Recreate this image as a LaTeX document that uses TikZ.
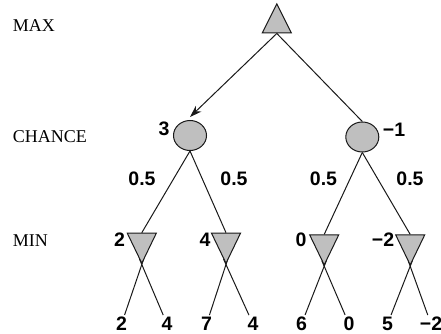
\documentclass[tikz,border=0pt]{standalone}
\usepackage{fontspec}
\setmainfont{Liberation Serif}
\newfontfamily\valfont{Liberation Sans}
\usetikzlibrary{shapes.geometric, arrows.meta, backgrounds}

\begin{document}
\begin{tikzpicture}[
    x=1pt, y=-1pt,
    tri/.style={isosceles triangle, isosceles triangle stretches, draw=black!90, line width=1pt,
        fill=black!25, inner sep=0pt, minimum width=29pt, minimum height=29pt},
    maxnode/.style={tri, shape border rotate=90},
    minnode/.style={tri, shape border rotate=270, minimum height=30pt},
    chance/.style={ellipse, draw=black!90, line width=1pt, fill=black!25, inner sep=0pt,
        minimum width=33pt, minimum height=30pt},
    level/.style={font=\fontsize{18}{21}\selectfont, anchor=west, inner sep=0pt},
    value/.style={font=\valfont\bfseries\fontsize{19.5}{22}\selectfont, inner sep=2pt},
    edge/.style={line width=1pt, draw=black!90},
    arrow/.style={edge, -{Stealth[length=12pt, width=8pt]}},
    leafedge/.style={edge, shorten <=-6pt}
]
\useasboundingbox (0,0) rectangle (441,334);

% row labels
\node[level] (lmax) at (12.7,25.5) {MAX};
\node[level] (lchance) at (12.7,136.5) {CHANCE};
\node[level] (lmin) at (12.7,241) {MIN};

% tree nodes
\node[maxnode] (root) at (276.8,24) {};
\node[chance] (c1) at (190,135.5) {};
\node[chance] (c2) at (362.3,137) {};
\node[minnode] (m1) at (141.8,242.3) {};
\node[minnode] (m2) at (226,242.3) {};
\node[minnode] (m3) at (324.2,244) {};
\node[minnode] (m4) at (410.2,244) {};

% leaves
\node[value] (l11) at (121.5,324) {2};
\node[value] (l12) at (167,324) {4};
\node[value] (l21) at (206.5,324) {7};
\node[value] (l22) at (253,324) {4};
\node[value] (l31) at (301.5,324) {6};
\node[value] (l32) at (349,324) {0};
\node[value] (l41) at (387.5,324) {5};
\node[value] (l42) at (431,324) {−2};

% backed-up values
\node[value] (v1) at (164,129) {3};
\node[value] (v2) at (394,130) {−1};
\node[value] (w1) at (119.6,240) {2};
\node[value] (w2) at (205,240) {4};
\node[value] (w3) at (301,240) {0};
\node[value] (w4) at (383,240) {−2};

% probabilities
\node[value] (p11) at (142,178.5) {0.5};
\node[value] (p12) at (234,178.5) {0.5};
\node[value] (p21) at (323.5,178.5) {0.5};
\node[value] (p22) at (410,178.5) {0.5};

\begin{scope}[on background layer]
\draw[arrow] (root.south) -- ([yshift=3pt]c1.north);
\draw[edge] (root.south) -- (c2.north);

\draw[edge] (c1.south) -- (m1.north);
\draw[edge] (c1.south) -- (m2.north);
\draw[edge] (c2.south) -- (m3.north);
\draw[edge] (c2.south) -- (m4.north);

\draw[leafedge] (m1.south) -- (l11);
\draw[leafedge] (m1.south) -- (l12);
\draw[leafedge] (m2.south) -- (l21);
\draw[leafedge] (m2.south) -- (l22);
\draw[leafedge] (m3.south) -- (l31);
\draw[leafedge] (m3.south) -- (l32);
\draw[leafedge] (m4.south) -- (l41);
\draw[leafedge] (m4.south) -- (l42);
\end{scope}

\end{tikzpicture}
\end{document}
